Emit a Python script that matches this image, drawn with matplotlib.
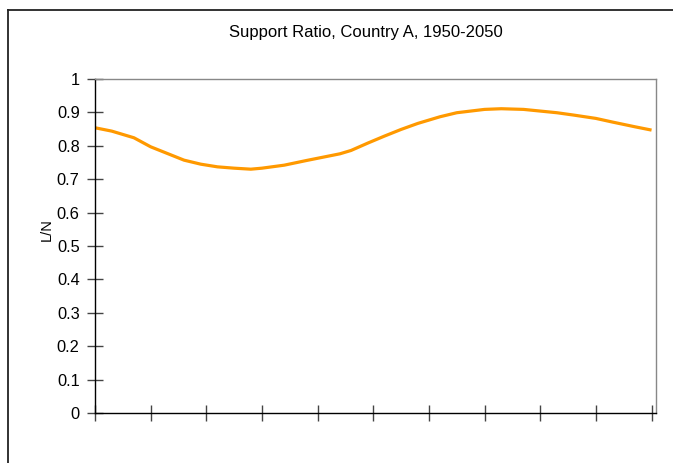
import matplotlib
matplotlib.use("Agg")
import matplotlib.pyplot as plt
from matplotlib.lines import Line2D

plt.rcParams['font.family'] = ['Liberation Sans', 'DejaVu Sans']

# support ratio
years = [1950, 1953, 1957, 1960, 1963, 1966, 1969, 1972, 1975, 1978,
         1980, 1984, 1988, 1991, 1994, 1996, 1999, 2002, 2005, 2008,
         2012, 2015, 2020, 2023, 2027, 2030, 2033, 2036, 2040, 2043,
         2047, 2050]
ratio = [0.854, 0.844, 0.824, 0.797, 0.777, 0.757, 0.745, 0.737, 0.733, 0.730,
         0.733, 0.742, 0.756, 0.766, 0.776, 0.786, 0.808, 0.829, 0.849, 0.867,
         0.887, 0.899, 0.909, 0.911, 0.909, 0.904, 0.899, 0.892, 0.882, 0.871,
         0.857, 0.847]
xticks = list(range(1950, 2051, 10))
yticks = [0, 0.1, 0.2, 0.3, 0.4, 0.5, 0.6, 0.7, 0.8, 0.9, 1]
yticklabels = ['0', '0.1', '0.2', '0.3', '0.4', '0.5', '0.6', '0.7', '0.8', '0.9', '1']

fig = plt.figure(figsize=(6.73, 4.63), dpi=100)
ax = fig.add_axes([95/673, 1 - 413/463, (656 - 95)/673, (413 - 79)/463])

ax.plot(years, ratio, '-', color='#FF9900', lw=2.3, solid_capstyle='butt')

ax.set_xlim(1950, 2050.8)
ax.set_ylim(0, 1)
ax.set_xticks(xticks)
ax.set_xticklabels([])
ax.set_yticks(yticks)
ax.set_yticklabels(yticklabels, fontsize=11.8)
ax.tick_params(axis='y', direction='inout', length=12, width=1, color='#444444', pad=5)
ax.tick_params(axis='x', direction='inout', length=11, width=1, color='#444444')

for s in ('top', 'right'):
    ax.spines[s].set_color('#888888')
    ax.spines[s].set_linewidth(1)
for s in ('left', 'bottom'):
    ax.spines[s].set_color('black')
    ax.spines[s].set_linewidth(1)

fig.text(366/673, 1 - 32/463, 'Support Ratio, Country A, 1950-2050',
         ha='center', va='center', fontsize=12)
fig.text(47/673, 1 - 230/463, 'L/N', rotation=90, ha='center', va='center',
         fontsize=10.5)

# outer chart frame
fig.add_artist(Line2D([8/673, 8/673], [0, 1 - 10/463], transform=fig.transFigure,
                      color='#222222', lw=1.3))
fig.add_artist(Line2D([8/673, 1], [1 - 10/463, 1 - 10/463], transform=fig.transFigure,
                      color='#222222', lw=1.3))

fig.savefig('out.png', dpi=100)
